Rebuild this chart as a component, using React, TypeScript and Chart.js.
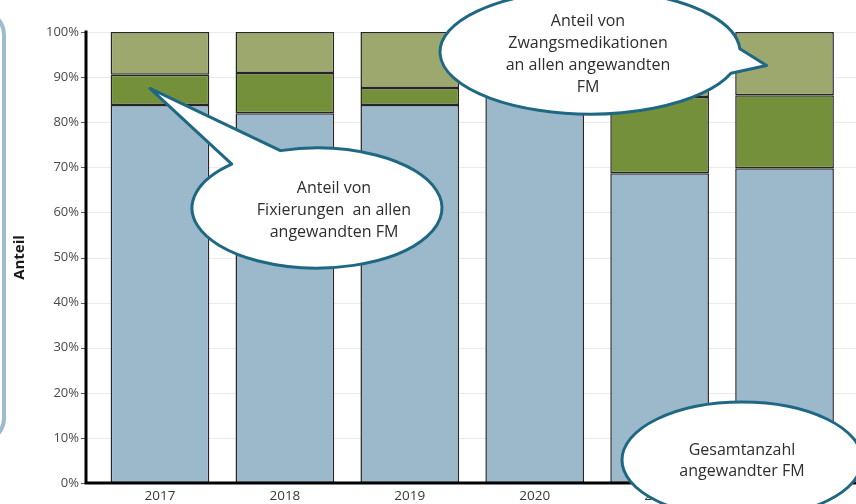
import React, { useEffect, useRef } from 'react';
import { Chart, registerables } from 'chart.js';

Chart.register(...registerables);

// ---- data ----
const years = ['2017', '2018', '2019', '2020', '2021', '2022'];
const otherShare = [83.8, 82.0, 83.8, 88.0, 68.7, 69.8];
const restraintShare = [6.7, 8.9, 3.8, 4.0, 16.9, 16.2];
const medicationShare = [9.5, 9.1, 12.4, 8.0, 14.4, 14.0];
const seriesNames = ['Sonstige FM', 'Fixierungen', 'Zwangsmedikationen'];
const yTickStep = 10;
const yAxisTitle = 'Anteil';
const calloutRestraint = ['Anteil von', 'Fixierungen  an allen', 'angewandten FM'];
const calloutMedication = ['Anteil von', 'Zwangsmedikationen', 'an allen angewandten', 'FM'];
const calloutTotal = ['Gesamtanzahl', 'angewandter FM'];

const COLORS = {
  other: '#9bb9cb',
  restraint: '#74903a',
  medication: '#9da86f',
  border: '#262626',
  bubble: '#1f6883',
  panel: '#9dbccd',
};

const AXIS_X = 86;
const deg = (d: number) => (d * Math.PI) / 180;

function drawBubble(
  ctx: CanvasRenderingContext2D,
  cx: number, cy: number, rx: number, ry: number,
  gap: [number, number] | null,
  tip: { x: number; y: number } | null,
  lines: string[], tx: number, ty0: number, lh: number,
) {
  ctx.save();
  ctx.beginPath();
  if (gap && tip) {
    ctx.ellipse(cx, cy, rx, ry, 0, deg(gap[1]), deg(gap[0]) + Math.PI * 2, false);
    ctx.lineTo(tip.x, tip.y);
    ctx.closePath();
  } else {
    ctx.ellipse(cx, cy, rx, ry, 0, 0, Math.PI * 2);
  }
  ctx.fillStyle = '#ffffff';
  ctx.fill();
  ctx.strokeStyle = COLORS.bubble;
  ctx.lineWidth = 3;
  ctx.lineJoin = 'round';
  ctx.stroke();
  ctx.fillStyle = '#2e2e2e';
  ctx.font = "16px 'Open Sans'";
  ctx.textAlign = 'center';
  ctx.textBaseline = 'middle';
  lines.forEach((l, i) => ctx.fillText(l, tx, ty0 + i * lh));
  ctx.restore();
}

const decorPlugin = {
  id: 'decor',
  beforeDraw(chart: any) {
    const ctx = chart.ctx;
    ctx.save();
    ctx.fillStyle = '#ffffff';
    ctx.fillRect(0, 0, chart.width, chart.height);
    // left panel edge
    ctx.strokeStyle = COLORS.panel;
    ctx.lineWidth = 4;
    ctx.beginPath();
    (ctx as any).roundRect(-60, 11, 64, 431, 24);
    ctx.stroke();
    ctx.restore();
  },
  beforeDatasetsDraw(chart: any) {
    const ctx = chart.ctx;
    const y = chart.scales.y;
    ctx.save();
    ctx.strokeStyle = '#ebebeb';
    ctx.lineWidth = 1;
    y.ticks.forEach((t: any) => {
      const py = Math.round(y.getPixelForValue(t.value)) + 0.5;
      ctx.beginPath();
      ctx.moveTo(AXIS_X, py);
      ctx.lineTo(chart.width, py);
      ctx.stroke();
    });
    ctx.restore();
  },
  afterDatasetsDraw(chart: any) {
    const ctx = chart.ctx;
    const y = chart.scales.y;
    const { top, bottom } = chart.chartArea;
    ctx.save();
    ctx.strokeStyle = '#555';
    ctx.lineWidth = 1;
    y.ticks.forEach((t: any) => {
      const py = Math.round(y.getPixelForValue(t.value)) + 0.5;
      ctx.beginPath();
      ctx.moveTo(AXIS_X - 5, py);
      ctx.lineTo(AXIS_X, py);
      ctx.stroke();
    });
    ctx.strokeStyle = '#000';
    ctx.lineWidth = 3;
    ctx.lineCap = 'square';
    ctx.beginPath();
    ctx.moveTo(AXIS_X, top);
    ctx.lineTo(AXIS_X, bottom);
    ctx.lineTo(chart.width + 5, bottom);
    ctx.stroke();
    ctx.restore();
  },
  afterDraw(chart: any) {
    const ctx = chart.ctx;
    const x = chart.scales.x;
    const y = chart.scales.y;
    // tip into the restraint segment of the first bar
    const tip1 = {
      x: x.getPixelForValue(0) - 10,
      y: y.getPixelForValue(otherShare[0] + restraintShare[0] * 0.55),
    };
    drawBubble(ctx, 317, 208, 125, 60, [-133, -107], tip1, calloutRestraint, 334, 188, 22);
    // tip into the medication segment of the last bar
    const last = years.length - 1;
    const tip2 = {
      x: x.getPixelForValue(last) - 18,
      y: y.getPixelForValue(otherShare[last] + restraintShare[last] + medicationShare[last] * 0.5) + 2,
    };
    drawBubble(ctx, 590, 52, 150, 62, [-3, 20], tip2, calloutMedication, 588, 21, 22);
    drawBubble(ctx, 742, 460, 120, 58, null, null, calloutTotal, 742, 450, 21);
  },
};

export default function App() {
  const ref = useRef<HTMLCanvasElement | null>(null);
  useEffect(() => {
    if (!ref.current) return;
    Chart.defaults.font.family = "'Open Sans'";
    const common = {
      borderColor: COLORS.border,
      borderWidth: 1.5,
      borderSkipped: false as const,
      barPercentage: 0.79,
      categoryPercentage: 1,
    };
    const chart = new Chart(ref.current, {
      type: 'bar',
      data: {
        labels: years,
        datasets: [
          { label: seriesNames[0], data: otherShare, backgroundColor: COLORS.other, ...common },
          { label: seriesNames[1], data: restraintShare, backgroundColor: COLORS.restraint, ...common },
          { label: seriesNames[2], data: medicationShare, backgroundColor: COLORS.medication, ...common },
        ],
      },
      options: {
        animation: false,
        responsive: false,
        events: [],
        layout: { padding: { top: 32, right: 9, bottom: 0, left: 0 } },
        plugins: { legend: { display: false }, tooltip: { enabled: false } },
        scales: {
          x: {
            stacked: true,
            grid: { display: false, drawTicks: false },
            border: { display: false },
            ticks: { color: '#3a3a3a', font: { size: 13.5 }, padding: 5 },
            afterFit: (s: any) => { s.height = 21; },
          },
          y: {
            stacked: true,
            min: 0,
            max: 100,
            grid: { display: false, drawTicks: false },
            border: { display: false },
            ticks: {
              stepSize: yTickStep,
              color: '#4a4a4a',
              font: { size: 13 },
              padding: 18.5,
              callback: (v: any) => v + '%',
            },
            title: {
              display: true,
              text: yAxisTitle,
              color: '#1a1a1a',
              font: { size: 15, weight: 'bold' },
              padding: { top: 11, bottom: 0 },
            },
            afterFit: (s: any) => {
              s.width = 97.5;
              s.paddingTop = 0;
              s.paddingBottom = 0;
            },
          },
        },
      },
      plugins: [decorPlugin],
    });
    return () => chart.destroy();
  }, []);
  return (
    <div style={{ position: 'fixed', left: 0, top: 0, width: 856, height: 504, background: '#fff' }}>
      <canvas ref={ref} width={856} height={504} style={{ display: 'block' }} />
    </div>
  );
}
